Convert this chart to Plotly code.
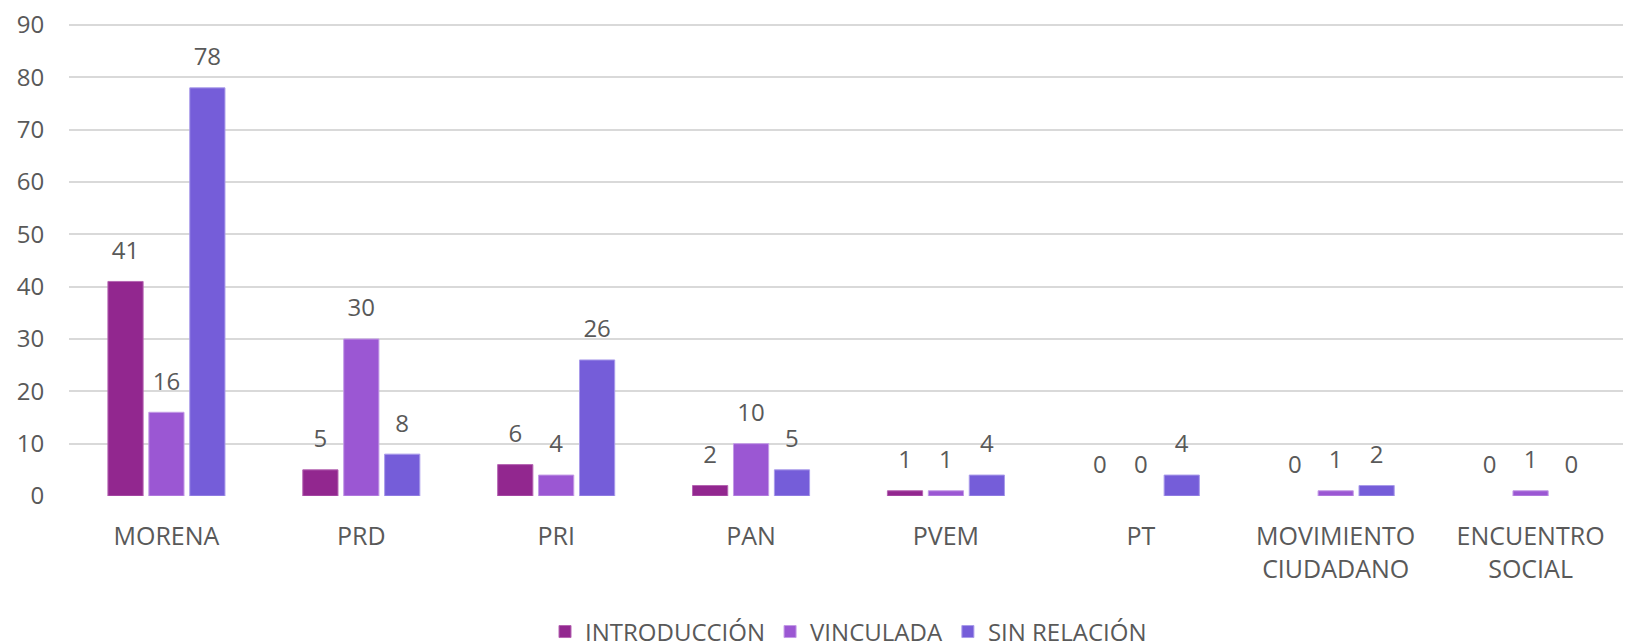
import plotly.graph_objects as go

partidos = ["MORENA", "PRD", "PRI", "PAN", "PVEM", "PT",
            "MOVIMIENTO<br>CIUDADANO", "ENCUENTRO<br>SOCIAL"]
introduccion = [41, 5, 6, 2, 1, 0, 0, 0]
vinculada = [16, 30, 4, 10, 1, 0, 1, 1]
sin_relacion = [78, 8, 26, 5, 4, 4, 2, 0]
y_ticks = [0, 10, 20, 30, 40, 50, 60, 70, 80, 90]

series = [
    ("INTRODUCCIÓN", introduccion, "#92278F", "#B565B2"),
    ("VINCULADA", vinculada, "#9B57D3", "#C39BE6"),
    ("SIN RELACIÓN", sin_relacion, "#755DD9", "#A99BEA"),
]

font_family = "Open Sans, Noto Sans, sans-serif"
grey = "#595959"

fig = go.Figure()
for name, vals, color, edge in series:
    fig.add_trace(go.Bar(
        x=partidos, y=vals, name=name,
        marker=dict(color=color,
                    line=dict(color=edge, width=[1 if v else 0 for v in vals])),
    ))

# value labels, lifted above the bar tops by an invisible marker
for name, vals, color, edge in series:
    fig.add_trace(go.Scatter(
        x=partidos, y=vals, mode="markers+text",
        text=[str(v) for v in vals], textposition="top center",
        textfont=dict(size=24, color=grey, family=font_family),
        marker=dict(size=25, opacity=0),
        showlegend=False, hoverinfo="skip", cliponaxis=False,
    ))

# page body adds an 8px offset, so margins are 8px smaller on top/left
fig.update_layout(
    width=1623, height=643,
    barmode="group", bargap=0.37, bargroupgap=0.14,
    scattermode="group", scattergap=0.37,
    plot_bgcolor="white", paper_bgcolor="white",
    margin=dict(l=61, r=3, t=16, b=155, autoexpand=False),
    font=dict(family=font_family, size=22, color=grey),
    legend=dict(orientation="h", x=0.5, xanchor="center", y=-0.288, yanchor="middle",
                font=dict(size=24, color=grey), itemwidth=30, traceorder="normal"),
    xaxis=dict(showgrid=False, showline=False, ticks="outside", ticklen=18, automargin=False,
               tickcolor="rgba(0,0,0,0)", tickfont=dict(size=25, color=grey)),
    yaxis=dict(range=[0, 90.2], tickmode="array", tickvals=y_ticks, ticklabeloverflow="allow",
               showgrid=True, gridcolor="#D9D9D9", gridwidth=2,
               zeroline=False, showline=False, ticks="outside", ticklen=19, automargin=False,
               tickcolor="rgba(0,0,0,0)", tickfont=dict(size=24, color=grey)),
)

fig.write_html("out.html")
